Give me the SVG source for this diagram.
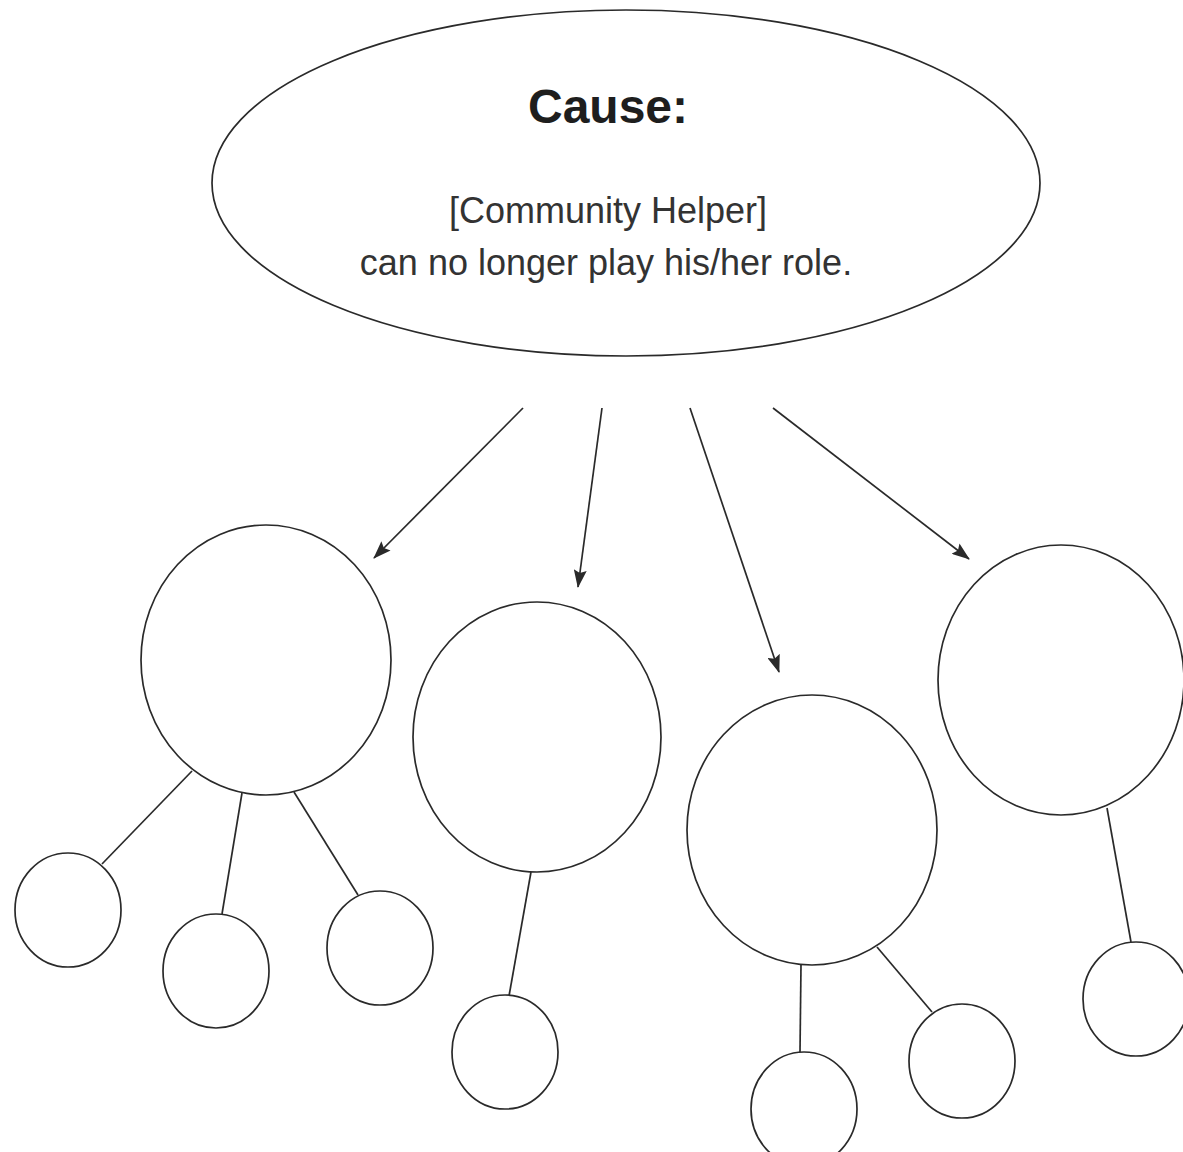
<svg xmlns="http://www.w3.org/2000/svg" width="1183" height="1152" viewBox="0 0 1183 1152">
<style>
  .shape { fill: #ffffff; stroke: #2a2a2a; stroke-width: 1.7; }
  .link { stroke: #2a2a2a; stroke-width: 1.7; fill: none; }
  .arrow { stroke: #2a2a2a; stroke-width: 1.7; fill: none; marker-end: url(#ah); }
  .title { font-family: "Liberation Sans", Arial, sans-serif; font-weight: bold; font-size: 48px; fill: #1e1e1e; text-anchor: middle; }
  .body { font-family: "Liberation Sans", Arial, sans-serif; font-size: 36px; fill: #333333; text-anchor: middle; }
</style>
<defs>
  <marker id="ah" markerUnits="userSpaceOnUse" markerWidth="18" markerHeight="13" viewBox="0 0 18 13" refX="17" refY="6.5" orient="auto">
    <path d="M0,0 L18,6.5 L0,13 L3,6.5 Z" fill="#2a2a2a"/>
  </marker>
</defs>
<rect width="1183" height="1152" fill="#ffffff"/>

<g id="connectors">
  <line class="arrow" x1="523" y1="408" x2="374" y2="558"/>
  <line class="arrow" x1="602" y1="408" x2="578" y2="587"/>
  <line class="arrow" x1="690" y1="408" x2="779" y2="672"/>
  <line class="arrow" x1="773" y1="408" x2="969" y2="559"/>
  <line class="link" x1="192" y1="771" x2="102" y2="864"/>
  <line class="link" x1="242" y1="793" x2="222" y2="914"/>
  <line class="link" x1="294" y1="792" x2="358" y2="895"/>
  <line class="link" x1="531" y1="872" x2="509" y2="996"/>
  <line class="link" x1="801" y1="965" x2="800" y2="1052"/>
  <line class="link" x1="877" y1="947" x2="932" y2="1012"/>
  <line class="link" x1="1107" y1="808" x2="1131" y2="942"/>
</g>

<g id="cause">
  <ellipse class="shape" cx="626" cy="183" rx="414" ry="173"/>
  <text class="title" x="608" y="123">Cause:</text>
  <text class="body" x="608" y="223">[Community Helper]</text>
  <text class="body" x="606" y="275">can no longer play his/her role.</text>
</g>

<g id="effect1"><ellipse class="shape" cx="266" cy="660" rx="125" ry="135"/></g>
<g id="effect2"><ellipse class="shape" cx="537" cy="737" rx="124" ry="135"/></g>
<g id="effect3"><ellipse class="shape" cx="812" cy="830" rx="125" ry="135"/></g>
<g id="effect4"><ellipse class="shape" cx="1061" cy="680" rx="123" ry="135"/></g>

<g id="detail1a"><ellipse class="shape" cx="68" cy="910" rx="53" ry="57"/></g>
<g id="detail1b"><ellipse class="shape" cx="216" cy="971" rx="53" ry="57"/></g>
<g id="detail1c"><ellipse class="shape" cx="380" cy="948" rx="53" ry="57"/></g>
<g id="detail2a"><ellipse class="shape" cx="505" cy="1052" rx="53" ry="57"/></g>
<g id="detail3a"><ellipse class="shape" cx="804" cy="1109" rx="53" ry="57"/></g>
<g id="detail3b"><ellipse class="shape" cx="962" cy="1061" rx="53" ry="57"/></g>
<g id="detail4a"><ellipse class="shape" cx="1136" cy="999" rx="53" ry="57"/></g>
</svg>
